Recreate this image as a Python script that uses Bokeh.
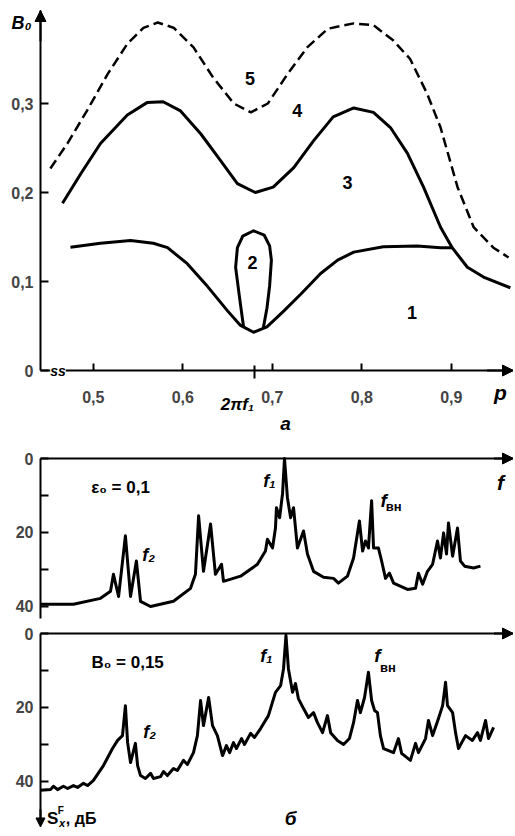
from bokeh.plotting import figure
from bokeh.layouts import column
from bokeh.models import Range1d, FixedTicker, Label, Arrow, NormalHead
from bokeh.embed import file_html
from bokeh.resources import INLINE

FONT = "Liberation Sans"

# ---------------- panel a : B0 vs p ----------------
P_TICKS = [0.5, 0.6, 0.7, 0.8, 0.9]
P_TICK_LABELS = ["0,5", "0,6", "0,7", "0,8", "0,9"]
P_F1 = 0.68
B_TICKS = [0.0, 0.1, 0.2, 0.3]
B_TICK_LABELS = ["0", "0,1", "0,2", "0,3"]

curve1_p = [0.4745, 0.508, 0.5416, 0.567, 0.583, 0.605, 0.628, 0.650, 0.664, 0.679,
            0.694, 0.713, 0.732, 0.754, 0.773, 0.791, 0.824, 0.862, 0.888, 0.901]
curve1_b = [0.1386, 0.143, 0.146, 0.143, 0.138, 0.120, 0.094, 0.067, 0.051, 0.043,
            0.049, 0.067, 0.086, 0.109, 0.124, 0.133, 0.139, 0.140, 0.138, 0.138]

curve2_p = [0.668, 0.663, 0.659, 0.661, 0.667, 0.679, 0.691, 0.697, 0.699, 0.697, 0.694, 0.690]
curve2_b = [0.048, 0.085, 0.116, 0.138, 0.151, 0.157, 0.152, 0.140, 0.124, 0.095, 0.070, 0.048]

curve4_p = [0.4656, 0.486, 0.508, 0.538, 0.560, 0.578, 0.597, 0.620, 0.642, 0.661, 0.681,
            0.701, 0.724, 0.746, 0.768, 0.791, 0.813, 0.832, 0.851, 0.869, 0.888, 0.901,
            0.918, 0.936, 0.966]
curve4_b = [0.188, 0.221, 0.255, 0.287, 0.301, 0.302, 0.292, 0.266, 0.236, 0.210, 0.200,
            0.206, 0.228, 0.258, 0.285, 0.295, 0.290, 0.273, 0.244, 0.206, 0.161, 0.138,
            0.116, 0.105, 0.093]

curve5_p = [0.452, 0.471, 0.493, 0.516, 0.538, 0.556, 0.572, 0.590, 0.612, 0.634, 0.657,
            0.676, 0.695, 0.717, 0.739, 0.762, 0.791, 0.813, 0.835, 0.854, 0.873, 0.888,
            0.907, 0.925, 0.947, 0.964]
curve5_b = [0.227, 0.255, 0.292, 0.333, 0.367, 0.385, 0.391, 0.385, 0.363, 0.329, 0.300,
            0.290, 0.300, 0.333, 0.363, 0.384, 0.390, 0.388, 0.371, 0.350, 0.311, 0.273,
            0.206, 0.161, 0.138, 0.127]

region_labels = ["1", "2", "3", "4", "5"]
region_p = [0.856, 0.678, 0.784, 0.728, 0.675]
region_b = [0.065, 0.121, 0.211, 0.292, 0.328]

# ---------------- panel б : spectra (f / f1, dB) ----------------
SPEC_TICKS = [0, 10, 20, 30, 40]
SPEC_TICK_LABELS = ["0", "", "20", "", "40"]

spec1_f = [0.0, 0.135, 0.246, 0.287, 0.299, 0.320, 0.348, 0.369, 0.393, 0.410, 0.451,
           0.545, 0.615, 0.635, 0.648, 0.668, 0.697, 0.717, 0.742, 0.750, 0.820, 0.889,
           0.922, 0.930, 0.951, 0.963, 0.967, 0.980, 0.992, 1.0, 1.012, 1.025, 1.037,
           1.053, 1.078, 1.094, 1.119, 1.160, 1.201, 1.221, 1.258, 1.283, 1.307, 1.320,
           1.332, 1.344, 1.357, 1.365, 1.385, 1.398, 1.414, 1.430, 1.447, 1.504, 1.537,
           1.549, 1.566, 1.586, 1.607, 1.627, 1.639, 1.652, 1.664, 1.672, 1.689, 1.709,
           1.721, 1.738, 1.775, 1.803]
spec1_db = [39.4, 39.4, 37.8, 35.9, 31.3, 37.3, 20.9, 37.3, 27.7, 38.6, 40.0,
            38.6, 35.1, 31.3, 15.5, 30.5, 17.7, 31.3, 28.6, 33.2, 31.8, 28.6,
            25.0, 21.8, 24.2, 18.8, 13.3, 16.0, 9.5, 0.0, 10.6, 16.0, 13.3,
            24.2, 19.6, 25.8, 30.5, 32.1, 32.4, 33.7, 31.8, 26.9, 16.9, 25.0,
            22.3, 24.2, 11.4, 24.2, 24.2, 27.7, 32.4, 31.0, 33.7, 35.4, 35.1,
            31.0, 34.0, 30.5, 28.6, 22.3, 26.9, 20.1, 25.8, 17.4, 26.4, 18.8,
            27.7, 29.1, 29.6, 29.1]

spec2_f = [0.0, 0.041, 0.053, 0.070, 0.094, 0.111, 0.135, 0.152, 0.176, 0.193, 0.217,
           0.258, 0.295, 0.316, 0.336, 0.348, 0.357, 0.369, 0.389, 0.398, 0.410, 0.430,
           0.451, 0.463, 0.492, 0.504, 0.520, 0.545, 0.561, 0.586, 0.602, 0.627, 0.643,
           0.656, 0.668, 0.689, 0.705, 0.725, 0.746, 0.762, 0.775, 0.791, 0.803, 0.824,
           0.836, 0.861, 0.877, 0.902, 0.934, 0.963, 0.984, 0.996, 1.006, 1.016, 1.033,
           1.045, 1.057, 1.078, 1.098, 1.119, 1.135, 1.156, 1.176, 1.189, 1.217, 1.242,
           1.266, 1.283, 1.299, 1.311, 1.328, 1.344, 1.357, 1.369, 1.381, 1.393, 1.406,
           1.447, 1.467, 1.480, 1.516, 1.537, 1.549, 1.578, 1.590, 1.607, 1.631, 1.648,
           1.660, 1.668, 1.689, 1.701, 1.713, 1.742, 1.770, 1.791, 1.803, 1.824, 1.836,
           1.857]
spec2_db = [42.4, 42.2, 41.3, 42.2, 41.3, 41.9, 41.1, 41.6, 40.5, 41.1, 39.7,
            35.7, 31.1, 28.9, 27.6, 19.5, 29.5, 34.9, 29.7, 35.7, 38.4, 39.2,
            37.8, 39.2, 38.7, 37.3, 38.4, 36.5, 37.0, 34.3, 35.4, 32.2, 27.6,
            18.1, 24.9, 17.3, 24.9, 27.6, 33.0, 30.3, 32.2, 29.5, 31.1, 28.4,
            30.0, 27.0, 28.1, 25.7, 22.2, 15.9, 14.1, 9.5, 0.5, 9.5, 15.9,
            13.5, 17.6, 20.3, 22.7, 21.4, 24.1, 26.8, 22.2, 26.8, 28.9, 30.0,
            28.4, 24.1, 18.1, 21.4, 17.3, 10.5, 18.1, 20.8, 21.4, 27.6, 31.1,
            32.2, 28.4, 32.4, 34.3, 29.7, 32.2, 28.4, 23.5, 27.6, 23.0, 19.5,
            13.2, 19.5, 21.4, 26.8, 31.1, 27.6, 28.9, 26.8, 28.9, 23.5, 28.4,
            25.4]

F_END = 1.9385


def txt(p, x, y, text, size="17px", style="bold", align="center", baseline="middle", bg=None):
    p.add_layout(Label(x=x, y=y, text=text, text_font=FONT, text_font_size=size,
                       text_font_style=style, text_align=align, text_baseline=baseline,
                       text_color="black", background_fill_color=bg))


def head(size=11):
    return NormalHead(size=size, fill_color="black", line_color="black", line_width=1)


def style_axis(ax, labels_size="16px", standoff=7):
    ax.axis_line_width = 2
    ax.major_tick_line_width = 2
    ax.minor_tick_line_width = 2
    ax.major_tick_out = 0
    ax.minor_tick_in = 0
    ax.minor_tick_out = 0
    ax.major_label_standoff = standoff
    ax.major_label_text_font = FONT
    ax.major_label_text_font_size = labels_size
    ax.major_label_text_font_style = "bold"


def base_fig(height, xr, yr):
    p = figure(width=513, height=height, x_range=xr, y_range=yr,
               output_backend="svg", toolbar_location=None, title=None,
               min_border_left=0, min_border_right=0, min_border_top=0, min_border_bottom=0)
    p.outline_line_color = None
    p.grid.visible = False
    p.background_fill_color = "white"
    p.border_fill_color = "white"
    return p


# ---------- figure a ----------
P0 = 0.441
B_TOP = 0.4045
p1 = base_fig(435, Range1d(0.39631, 0.9695), Range1d(-0.07303, 0.41573))

xa = p1.xaxis[0]
style_axis(xa, standoff=12)
xa.fixed_location = 0
xa.bounds = (P0, 0.9695)
xa.ticker = FixedTicker(ticks=P_TICKS, minor_ticks=[P_F1])
xa.major_label_overrides = {t: l for t, l in zip(P_TICKS, P_TICK_LABELS)}
xa.major_tick_in = 7
xa.minor_tick_in = 5
xa.minor_tick_out = 8

ya = p1.yaxis[0]
style_axis(ya, standoff=7)
ya.fixed_location = P0
ya.bounds = (0, B_TOP)
ya.ticker = FixedTicker(ticks=B_TICKS)
ya.major_label_overrides = {t: l for t, l in zip(B_TICKS, B_TICK_LABELS)}
ya.major_tick_in = 8

p1.line(curve1_p, curve1_b, line_color="black", line_width=3, line_join="round")
p1.line(curve2_p, curve2_b, line_color="black", line_width=3, line_join="round")
p1.line(curve4_p, curve4_b, line_color="black", line_width=3, line_join="round")
p1.line(curve5_p, curve5_b, line_color="black", line_width=2.5, line_dash="10 5")

for t, x, y in zip(region_labels, region_p, region_b):
    txt(p1, x, y, t, size="18px")

p1.add_layout(Arrow(end=head(), x_start=P0, y_start=0.37, x_end=P0, y_end=B_TOP,
                    line_width=2, line_color="black"))
p1.add_layout(Arrow(end=head(), x_start=0.94, y_start=0, x_end=0.9695, y_end=0,
                    line_width=2, line_color="black"))
txt(p1, 0.4198, 0.39, "B₀", size="18px", style="bold italic")
txt(p1, 0.955, -0.025, "p", size="21px", style="bold italic")
txt(p1, 0.661, -0.038, "2πf₁", size="17px", style="bold italic")
txt(p1, 0.7148, -0.0596, "а", size="19px", style="bold italic")
txt(p1, 0.4605, 0.0, "ss", size="14px", style="bold italic", bg="white")


def spectrum_fig(height, y_bottom, y_top, axis_end):
    p = base_fig(height, Range1d(-0.1639, F_END), Range1d(y_bottom, y_top))
    ax = p.xaxis[0]
    style_axis(ax)
    ax.fixed_location = 0
    ax.bounds = (0, F_END)
    ax.ticker = FixedTicker(ticks=[])
    ax.major_tick_in = 0
    ax.major_label_text_font_size = "0px"
    ay = p.yaxis[0]
    style_axis(ay, standoff=7)
    ay.fixed_location = 0
    ay.bounds = (0, axis_end)
    ay.ticker = FixedTicker(ticks=SPEC_TICKS)
    ay.major_label_overrides = {t: l for t, l in zip(SPEC_TICKS, SPEC_TICK_LABELS)}
    ay.major_tick_in = 8
    p.add_layout(Arrow(end=head(), x_start=F_END - 0.08, y_start=0, x_end=F_END, y_end=0,
                       line_width=2, line_color="black"))
    return p


p2 = spectrum_fig(190, 45.14, -6.22, 43.3)
p2.line(spec1_f, spec1_db, line_color="black", line_width=3, line_join="round")
txt(p2, 0.328, 7.8, "ε₀ = 0,1", size="17px")
txt(p2, 0.9385, 6.2, "f₁", size="18px", style="bold italic")
txt(p2, 0.443, 26.2, "f₂", size="18px", style="bold italic")
txt(p2, 1.406, 11.4, "f", size="19px", style="bold italic")
txt(p2, 1.447, 13.0, "вн", size="13px", style="bold")
txt(p2, 1.885, 6.5, "f", size="21px", style="bold italic")

p3 = spectrum_fig(205, 53.25, -2.16, 50.5)
p3.line(spec2_f, spec2_db, line_color="black", line_width=3, line_join="round")
p3.add_layout(Arrow(end=head(9), x_start=0, y_start=47.5, x_end=0, y_end=52.3,
                    line_width=2, line_color="black"))
txt(p3, 0.357, 7.8, "B₀ = 0,15", size="17px")
txt(p3, 0.926, 6.2, "f₁", size="18px", style="bold italic")
txt(p3, 0.447, 26.5, "f₂", size="18px", style="bold italic")
txt(p3, 1.381, 5.9, "f", size="19px", style="bold italic")
txt(p3, 1.424, 9.2, "вн", size="13px", style="bold")
txt(p3, 0.050, 50.0, "S", size="17px")
txt(p3, 0.083, 47.9, "F", size="10px")
txt(p3, 0.088, 51.3, "x", size="11px", style="bold italic")
txt(p3, 0.104, 50.0, ", дБ", size="16px", align="left")
txt(p3, 1.025, 50.0, "б", size="19px", style="bold italic")

layout = column(p1, p2, p3, spacing=0)
open("out.html", "w").write(file_html(layout, INLINE))
